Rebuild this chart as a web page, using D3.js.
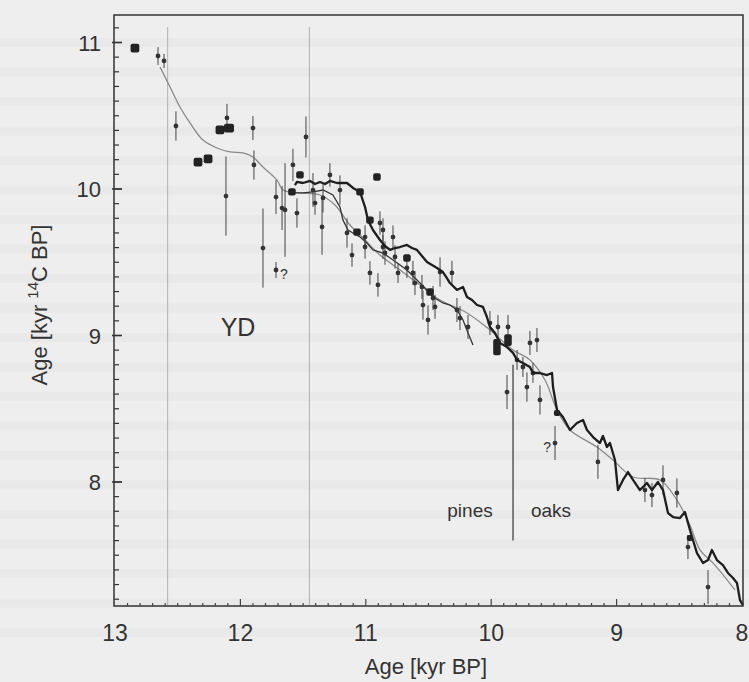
<!DOCTYPE html>
<html><head><meta charset="utf-8">
<script src="https://cdn.jsdelivr.net/npm/d3@7/dist/d3.min.js"></script>
<style>
html,body{margin:0;padding:0;background:#ededed;}
svg{display:block;font-family:"Liberation Sans",Arial,sans-serif;}
</style></head><body>
<script>
// cal age (kyr BP), 14C age (kyr 14C BP)
const treeRing = [[11.565,10.027],[11.549,10.048],[11.501,10.041],[11.445,10.055],[11.405,10.034],[11.365,10.048],[11.325,10.034],[11.286,10.055],[11.230,10.041],[11.150,10.041],[11.102,10.007],[11.046,9.980],[11.006,9.877],[10.983,9.788],[10.943,9.720],[10.887,9.652],[10.847,9.611],[10.807,9.584],[10.767,9.597],[10.727,9.604],[10.672,9.618],[10.632,9.597],[10.592,9.584],[10.552,9.543],[10.512,9.502],[10.472,9.481],[10.432,9.461],[10.385,9.433],[10.353,9.392],[10.329,9.358],[10.273,9.311],[10.225,9.331],[10.193,9.263],[10.153,9.242],[10.113,9.208],[10.066,9.195],[10.034,9.126],[10.010,9.058],[9.970,9.017],[9.930,8.949],[9.874,8.921],[9.826,8.881],[9.794,8.833],[9.747,8.812],[9.691,8.785],[9.667,8.744],[9.611,8.744],[9.555,8.730],[9.515,8.744],[9.507,8.648],[9.475,8.491],[9.428,8.444],[9.372,8.355],[9.316,8.403],[9.268,8.423],[9.236,8.355],[9.188,8.307],[9.133,8.266],[9.109,8.314],[9.077,8.239],[9.053,8.266],[9.013,8.150],[8.989,7.945],[8.949,8.014],[8.909,8.068],[8.869,8.014],[8.814,7.945],[8.758,7.993],[8.718,7.945],[8.670,8.000],[8.630,7.945],[8.590,7.788],[8.550,7.761],[8.495,7.754],[8.455,7.795],[8.415,7.672],[8.391,7.604],[8.359,7.515],[8.311,7.447],[8.271,7.467],[8.240,7.536],[8.200,7.467],[8.152,7.433],[8.112,7.379],[8.072,7.345],[8.040,7.311],[8.016,7.194],[7.992,7.160]];

const secondRecord = [[11.581,9.973],[11.501,9.973],[11.421,9.980],[11.341,9.993],[11.262,9.959],[11.206,9.877],[11.182,9.788],[11.142,9.720],[11.102,9.700],[11.046,9.672],[10.991,9.631],[10.943,9.584],[10.863,9.563],[10.783,9.515],[10.727,9.481],[10.672,9.447],[10.592,9.379],[10.512,9.311],[10.464,9.263],[10.385,9.222],[10.329,9.208],[10.273,9.174],[10.225,9.106],[10.185,9.017],[10.145,8.935]];

const smoothCurve = [[12.641,10.833],[12.561,10.696],[12.482,10.560],[12.402,10.451],[12.298,10.334],[12.187,10.280],[12.083,10.253],[11.979,10.246],[11.900,10.218],[11.820,10.150],[11.708,10.061],[11.660,9.993],[11.525,9.973],[11.365,9.959],[11.246,9.891],[11.126,9.754],[11.006,9.652],[10.887,9.549],[10.727,9.447],[10.568,9.345],[10.408,9.242],[10.193,9.154],[10.010,9.038],[9.826,8.901],[9.691,8.833],[9.571,8.696],[9.475,8.491],[9.372,8.355],[9.157,8.239],[9.029,8.150],[8.869,8.034],[8.654,8.014],[8.519,7.877],[8.415,7.706],[8.335,7.536],[8.216,7.433],[8.056,7.263]];

// [cal, 14C, half error]
const datedSamples = [[12.657,10.908,0.061],[12.609,10.874,0.048],[12.514,10.430,0.10],[12.115,9.952,0.27],[12.107,10.485,0.096],[11.900,10.416,0.082],[11.892,10.164,0.10],[11.716,9.945,0.116],[11.668,9.870,0.15],[11.644,9.857,0.32],[11.820,9.597,0.27],[11.716,9.447,0.055],[11.549,9.836,0.10],[11.477,10.355,0.14],[11.581,10.164,0.11],[11.421,9.993,0.116],[11.405,9.904,0.08],[11.349,9.741,0.19],[11.341,9.939,0.10],[11.286,10.096,0.08],[11.206,9.993,0.10],[11.150,9.700,0.10],[11.110,9.549,0.08],[11.006,9.672,0.08],[11.006,9.604,0.08],[10.967,9.427,0.08],[10.903,9.345,0.08],[10.887,9.768,0.08],[10.863,9.720,0.08],[10.847,9.563,0.08],[10.783,9.672,0.08],[10.767,9.536,0.08],[10.743,9.427,0.068],[10.672,9.461,0.068],[10.624,9.427,0.082],[10.608,9.358,0.082],[10.552,9.331,0.082],[10.544,9.208,0.10],[10.504,9.106,0.10],[10.464,9.256,0.082],[10.448,9.195,0.082],[10.408,9.433,0.10],[10.313,9.427,0.082],[10.273,9.174,0.082],[10.249,9.119,0.082],[10.185,9.058,0.082],[10.010,9.085,0.082],[9.946,9.058,0.082],[9.866,9.058,0.082],[9.874,8.614,0.116],[9.794,8.833,0.068],[9.747,8.785,0.068],[9.715,8.648,0.10],[9.691,8.949,0.082],[9.635,8.969,0.082],[9.667,8.744,0.068],[9.611,8.560,0.10],[9.491,8.266,0.116],[9.149,8.137,0.116],[8.774,7.945,0.082],[8.718,7.911,0.082],[8.630,8.014,0.10],[8.519,7.925,0.10],[8.431,7.556,0.082],[8.271,7.283,0.116],[10.863,9.604,0.082]];

// big filled markers [cal, 14C, width(kyr), height(kyr 14C)]
const bigMarkers = [[12.841,10.962,0.07,0.06],[12.338,10.184,0.07,0.06],[12.258,10.205,0.07,0.06],[12.163,10.403,0.07,0.06],[12.091,10.416,0.08,0.06],[11.589,9.980,0.06,0.05],[11.525,10.096,0.06,0.05],[11.046,9.980,0.06,0.05],[10.911,10.082,0.06,0.05],[10.967,9.788,0.06,0.05],[11.070,9.706,0.06,0.05],[10.672,9.529,0.06,0.05],[10.488,9.297,0.06,0.05],[9.954,8.921,0.06,0.11],[9.866,8.969,0.06,0.08],[9.475,8.471,0.05,0.04],[8.415,7.618,0.05,0.04]];

const questionMarks = [[11.716,9.447,"right"],[9.491,8.266,"left"]];
const ydBounds = [12.58, 11.45];
const pinesOaks = {cal: 9.826, from: 8.80, to: 7.60};
const xTicks = [13,12,11,10,9,8];
const yTicks = [8,9,10,11];

const W = 749, H = 682;
const x = d3.scaleLinear().domain([13,8]).range([115,742]);
const y = d3.scaleLinear().domain([8,11]).range([482,42.5]);
const fTop = 15, fBottom = 606, fLeft = 114, fRight = 743;

const svg = d3.select("body").append("svg").attr("width",W).attr("height",H);
svg.append("rect").attr("width",W).attr("height",H).attr("fill","#eeeeee");

// faint bleed-through stripes of the scanned page
const stripeY = d3.range(38, 640, 29.5);
svg.append("g").selectAll("rect").data(stripeY).join("rect")
  .attr("x",0).attr("y",d=>d).attr("width",W).attr("height",9)
  .attr("fill","#e6e6e6").attr("opacity",0.6);

// YD boundaries
svg.append("g").selectAll("line").data(ydBounds).join("line")
  .attr("x1",d=>x(d)).attr("x2",d=>x(d)).attr("y1",fTop+12).attr("y2",fBottom)
  .attr("stroke","#b0b0b0").attr("stroke-width",1);

// pines / oaks line
svg.append("line").attr("x1",x(pinesOaks.cal)).attr("x2",x(pinesOaks.cal))
  .attr("y1",y(pinesOaks.from)).attr("y2",y(pinesOaks.to))
  .attr("stroke","#333").attr("stroke-width",1.2);

const line = d3.line().x(d=>x(d[0])).y(d=>y(d[1]));

svg.append("path")
  .attr("d", d3.line().x(d=>x(d[0])).y(d=>y(d[1])).curve(d3.curveCatmullRom)(smoothCurve))
  .attr("fill","none").attr("stroke","#8a8a8a").attr("stroke-width",1.3);

svg.append("path").attr("d",line(secondRecord))
  .attr("fill","none").attr("stroke","#333").attr("stroke-width",1.3);

// error bars
const eg = svg.append("g");
eg.selectAll("line").data(datedSamples).join("line")
  .attr("x1",d=>x(d[0])).attr("x2",d=>x(d[0]))
  .attr("y1",d=>y(d[1]+d[2])).attr("y2",d=>y(d[1]-d[2]))
  .attr("stroke","#444").attr("stroke-width",1);
eg.selectAll("circle").data(datedSamples).join("circle")
  .attr("cx",d=>x(d[0])).attr("cy",d=>y(d[1])).attr("r",2.4).attr("fill","#333");

svg.append("path").attr("d",line(treeRing))
  .attr("fill","none").attr("stroke","#1e1e1e").attr("stroke-width",2.3)
  .attr("stroke-linejoin","round");

svg.append("g").selectAll("rect").data(bigMarkers).join("rect")
  .attr("x",d=>x(d[0]+d[2]/2)).attr("y",d=>y(d[1]+d[3]/2))
  .attr("width",d=>x(d[0]-d[2]/2)-x(d[0]+d[2]/2))
  .attr("height",d=>y(d[1]-d[3]/2)-y(d[1]+d[3]/2))
  .attr("rx",2).attr("fill","#222");

svg.append("g").selectAll("text").data(questionMarks).join("text")
  .attr("x",d=>x(d[0]) + (d[2]==="right"?4:-4))
  .attr("y",d=>y(d[1])+9)
  .attr("text-anchor",d=>d[2]==="right"?"start":"end")
  .attr("font-size",14).attr("fill","#333").text("?");

// frame
svg.append("rect").attr("x",fLeft).attr("y",fTop).attr("width",fRight-fLeft).attr("height",fBottom-fTop)
  .attr("fill","none").attr("stroke","#333").attr("stroke-width",1.5);

// y ticks
const yMinor = d3.range(72,112).map(v=>v/10);
svg.append("g").selectAll("line").data(yMinor).join("line")
  .attr("x1",fLeft).attr("x2",d=>fLeft + (Math.abs(d-Math.round(d))<1e-6?8:5))
  .attr("y1",d=>y(d)).attr("y2",d=>y(d)).attr("stroke","#333").attr("stroke-width",1.2);
svg.append("g").selectAll("line").data(yTicks).join("line")
  .attr("x1",fLeft-2).attr("x2",fLeft+8).attr("y1",d=>y(d)).attr("y2",d=>y(d))
  .attr("stroke","#333").attr("stroke-width",1.5);
svg.append("g").selectAll("text").data(yTicks).join("text")
  .attr("x",101).attr("y",d=>y(d)+8).attr("text-anchor","end")
  .attr("font-size",22).attr("fill","#333").text(d=>d);

// x ticks
const xMinor = d3.range(81,130).map(v=>v/10);
svg.append("g").selectAll("line").data(xMinor).join("line")
  .attr("x1",d=>x(d)).attr("x2",d=>x(d))
  .attr("y1",fBottom).attr("y2",d=>fBottom-(Math.abs(d-Math.round(d))<1e-6?7:3))
  .attr("stroke","#444").attr("stroke-width",1.2);
svg.append("g").selectAll("text").data(xTicks).join("text")
  .attr("x",d=>x(d)).attr("y",641).attr("text-anchor","middle")
  .attr("font-size",23).attr("fill","#333").text(d=>d);

// axis titles
svg.append("text").attr("x",426).attr("y",674).attr("text-anchor","middle")
  .attr("font-size",22).attr("fill","#333").text("Age [kyr BP]");
const yt = svg.append("text").attr("transform","translate(47,305) rotate(-90)")
  .attr("text-anchor","middle").attr("font-size",22).attr("fill","#333");
yt.append("tspan").text("Age  [kyr ");
yt.append("tspan").attr("font-size",15).attr("dy",-9).text("14");
yt.append("tspan").attr("dy",9).text("C BP]");

// annotations
svg.append("text").attr("x",238).attr("y",336).attr("text-anchor","middle")
  .attr("font-size",25).attr("fill","#333").text("YD");
svg.append("text").attr("x",470).attr("y",517).attr("text-anchor","middle")
  .attr("font-size",19).attr("fill","#333").text("pines");
svg.append("text").attr("x",551).attr("y",517).attr("text-anchor","middle")
  .attr("font-size",19).attr("fill","#333").text("oaks");
</script>
</body></html>
